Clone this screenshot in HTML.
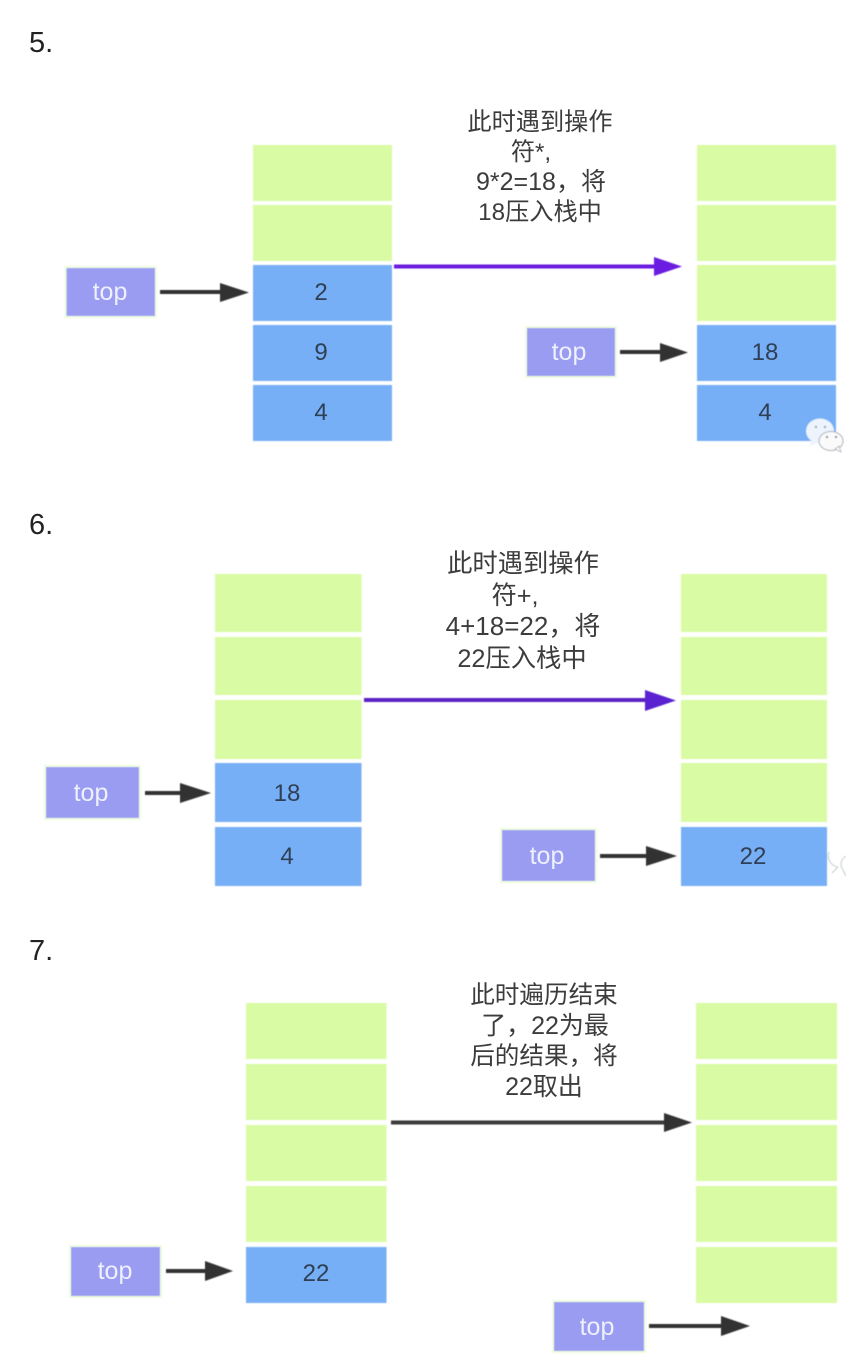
<!DOCTYPE html>
<html><head><meta charset="utf-8">
<style>
html,body{margin:0;padding:0;background:#fff;width:846px;height:1362px;overflow:hidden}
svg{display:block}
text{font-family:"Liberation Sans","Noto Sans CJK SC",sans-serif}
.h{font-size:29px;fill:#222}
.c{font-size:24.2px;fill:#3c3c3c;text-anchor:middle}
.d{font-size:24px;fill:#2f3f55;text-anchor:middle}
.t{font-size:25px;fill:#eef0fc;text-anchor:middle}
.g{fill:#d9fba4}.b{fill:#76aff5}
.p{fill:#9a9cf2;stroke:#eefce0;stroke-width:2}
</style></head><body>
<svg width="846" height="1362" viewBox="0 0 846 1362" xmlns="http://www.w3.org/2000/svg">
<rect width="846" height="1362" fill="#fff"/>
<g filter="url(#s)">
<defs><filter id="s" x="-2%" y="-2%" width="104%" height="104%"><feGaussianBlur stdDeviation="0.45"/></filter></defs>
<!-- section 5 -->
<rect class="g" x="253" y="145" width="139" height="56"/>
<rect class="g" x="253" y="205" width="139" height="56"/>
<rect class="b" x="253" y="265" width="139" height="56"/>
<rect class="b" x="253" y="325" width="139" height="56"/>
<rect class="b" x="253" y="385" width="139" height="56"/>
<rect class="g" x="697" y="145" width="139" height="56"/>
<rect class="g" x="697" y="205" width="139" height="56"/>
<rect class="g" x="697" y="265" width="139" height="56"/>
<rect class="b" x="697" y="325" width="139" height="56"/>
<rect class="b" x="697" y="385" width="139" height="56"/>
<rect class="p" x="65.5" y="267" width="90.5" height="50"/>
<rect class="p" x="526" y="327" width="90" height="50"/>
<path d="M160 292H222" stroke="#333" stroke-width="4"/><path d="M220 283L249 292.500L220 302Z" fill="#333"/>
<path d="M620 352H662" stroke="#333" stroke-width="4"/><path d="M660 343L688 352.500L660 362Z" fill="#333"/>
<path d="M394 266.500H656" stroke="#6a1fe0" stroke-width="4"/><path d="M654 257L682 266.500L654 276Z" fill="#6a1fe0"/>
<!-- section 6 -->
<rect class="g" x="215" y="574" width="146.500" height="58"/>
<rect class="g" x="215" y="637" width="146.500" height="58"/>
<rect class="g" x="215" y="700" width="146.500" height="59"/>
<rect class="b" x="215" y="763" width="146.500" height="59"/>
<rect class="b" x="215" y="827" width="146.500" height="59"/>
<rect class="g" x="681" y="574" width="146" height="58"/>
<rect class="g" x="681" y="637" width="146" height="58"/>
<rect class="g" x="681" y="700" width="146" height="59"/>
<rect class="g" x="681" y="763" width="146" height="59"/>
<rect class="b" x="681" y="827" width="146" height="59"/>
<rect class="p" x="45" y="766" width="95" height="53"/>
<rect class="p" x="501" y="829" width="95" height="53"/>
<path d="M145 793H182" stroke="#333" stroke-width="4"/><path d="M180 783L211 793L180 803Z" fill="#333"/>
<path d="M600 856H648" stroke="#333" stroke-width="4"/><path d="M646 846L677 856L646 866Z" fill="#333"/>
<path d="M364 700H647" stroke="#5a20c4" stroke-width="4"/><path d="M645 690L676 700.500L645 711Z" fill="#5a20d0"/>
<!-- section 7 -->
<rect class="g" x="246" y="1003" width="140.500" height="56"/>
<rect class="g" x="246" y="1064" width="140.500" height="56"/>
<rect class="g" x="246" y="1125" width="140.500" height="56"/>
<rect class="g" x="246" y="1186" width="140.500" height="56"/>
<rect class="b" x="246" y="1247" width="140.500" height="56"/>
<rect class="g" x="696" y="1003" width="141" height="56"/>
<rect class="g" x="696" y="1064" width="141" height="56"/>
<rect class="g" x="696" y="1125" width="141" height="56"/>
<rect class="g" x="696" y="1186" width="141" height="56"/>
<rect class="g" x="696" y="1247" width="141" height="56"/>
<rect class="p" x="70" y="1246" width="91" height="51"/>
<rect class="p" x="553" y="1301" width="92" height="51"/>
<path d="M166 1271H207" stroke="#333" stroke-width="4"/><path d="M205 1261L233 1271L205 1281Z" fill="#333"/>
<path d="M649 1326H723" stroke="#333" stroke-width="4"/><path d="M721 1316L750 1326L721 1336Z" fill="#333"/>
<path d="M391 1122.500H666" stroke="#3a3a3a" stroke-width="4"/><path d="M664 1113L692 1122.500L664 1132Z" fill="#333"/>
<!-- watermark section 5 -->
<ellipse cx="820" cy="431" rx="14" ry="12.500" fill="#eef4fd"/>
<path d="M811 441L809 446L818 443Z" fill="#eef4fd"/>
<ellipse cx="831" cy="441" rx="12" ry="9.500" fill="#fafafa" stroke="#aab0b8" stroke-width="1"/>
<path d="M835 449L841 452L839 446Z" fill="#fafafa" stroke="#aab0b8" stroke-width="0.800"/>
<circle cx="816" cy="427" r="1.200" fill="#9aa5b2"/><circle cx="825" cy="427" r="1.200" fill="#9aa5b2"/>
<circle cx="827" cy="437" r="1.100" fill="#778"/><circle cx="836" cy="437" r="1.100" fill="#778"/>
<!-- watermark section 6 -->
<path d="M829 852C826 860 832 866 838 867M846 856C840 860 840 866 843 870" fill="none" stroke="#c5c9cd" stroke-width="1"/>
<path d="M838 867L832 873M843 870L846 876" fill="none" stroke="#c5c9cd" stroke-width="1"/>
</g>
<text class="h" x="29" y="52">5.</text>
<text class="h" x="29" y="534">6.</text>
<text class="h" x="29" y="960">7.</text>

<text class="c" x="540" y="130">此时遇到操作</text>
<text class="c" x="531" y="160">符*,</text>
<text class="c" x="541" y="190" style="font-size:25px">9*2=18，将</text>
<text class="c" x="540" y="220">18压入栈中</text>

<text class="c" style="font-size:25.300px" x="523" y="572">此时遇到操作</text>
<text class="c" style="font-size:25.300px" x="515" y="604">符+,</text>
<text class="c" style="font-size:26px" x="523" y="635">4+18=22，将</text>
<text class="c" style="font-size:25.300px" x="522" y="667">22压入栈中</text>

<text class="c" style="font-size:24.600px" x="544" y="1003">此时遍历结束</text>
<text class="c" style="font-size:25px" x="545" y="1034">了，22为最</text>
<text class="c" style="font-size:24.600px" x="544" y="1064">后的结果，将</text>
<text class="c" style="font-size:25px" x="544" y="1095">22取出</text>

<text class="t" x="110" y="300">top</text>
<text class="t" x="569" y="360">top</text>
<text class="t" x="91" y="801">top</text>
<text class="t" x="547" y="864">top</text>
<text class="t" x="115" y="1279">top</text>
<text class="t" x="597" y="1335">top</text>

<text class="d" x="321" y="300">2</text>
<text class="d" x="321" y="360">9</text>
<text class="d" x="321" y="420">4</text>
<text class="d" x="765" y="360">18</text>
<text class="d" x="765" y="420">4</text>
<text class="d" x="287" y="801">18</text>
<text class="d" x="287" y="864">4</text>
<text class="d" x="753" y="864">22</text>
<text class="d" x="316" y="1281">22</text>
</svg>
</body></html>
